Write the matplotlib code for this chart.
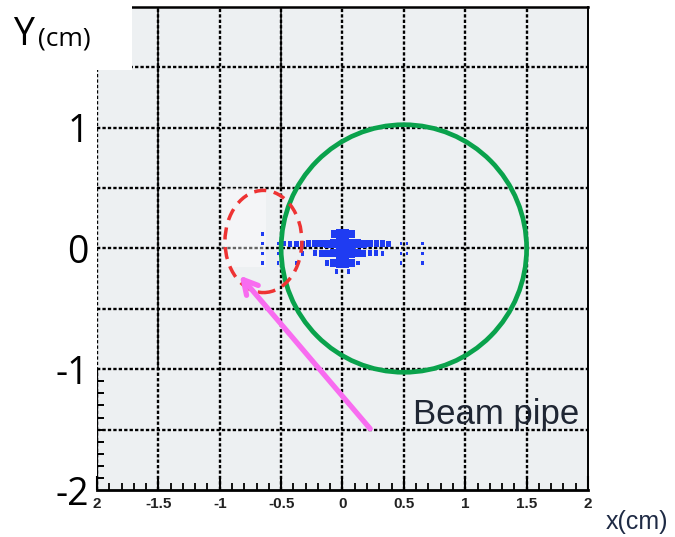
import matplotlib.pyplot as plt
import numpy as np
from matplotlib.patches import Ellipse, Rectangle
from matplotlib.ticker import FixedLocator

# hit boxes (cm) and relative box size
hit_x = [-0.65, -0.075, -0.025, 0.025, 0.075,
         -0.65, -0.525, -0.475, -0.425, -0.375, -0.325, -0.275, -0.225, -0.175, -0.125, -0.075, -0.025,
         0.025, 0.075, 0.125, 0.175, 0.225, 0.275, 0.325, 0.375, 0.475, 0.525, 0.65,
         -0.65, -0.525, -0.325, -0.225, -0.175, -0.125, -0.075, -0.025, 0.025, 0.075, 0.125, 0.175,
         0.225, 0.275, 0.325, 0.475, 0.525, 0.65,
         -0.65, -0.525, -0.375, -0.125, -0.075, -0.025, 0.025, 0.075, 0.125, 0.475, 0.65,
         -0.05, 0.05]
hit_y = [0.12] * 5 + [0.04] * 23 + [-0.04] * 18 + [-0.12] * 11 + [-0.19] * 2
hit_w = [0.35, 0.75, 1.0, 1.0, 0.85,
         0.35, 0.35, 0.45, 0.6, 0.6, 0.65, 0.7, 0.75, 0.75, 0.8, 0.9, 1.0,
         1.0, 1.0, 0.9, 0.8, 0.75, 0.7, 0.7, 0.6, 0.35, 0.35, 0.35,
         0.35, 0.35, 0.5, 0.6, 0.7, 0.75, 0.85, 1.0, 1.0, 1.0, 0.85, 0.7,
         0.65, 0.6, 0.5, 0.35, 0.35, 0.35,
         0.35, 0.35, 0.35, 0.6, 0.9, 1.0, 1.0, 0.85, 0.5, 0.35, 0.35,
         0.45, 0.45]

x_ticks = [-2, -1.5, -1, -0.5, 0, 0.5, 1, 1.5, 2]
x_labels = ['2', '-1.5', '-1', '-0.5', '0', '0.5', '1', '1.5', '2']
y_ticks = [-2, -1, 0, 1]
y_labels = ['-2', '-1', '0', '1']
grid_pos = [-1.5, -1, -0.5, 0, 0.5, 1, 1.5]

pipe_center = (0.5, 0.0)
pipe_radius = 1.0
old_center = (-0.644, 0.058)
old_size = (0.627, 0.846)

fig = plt.figure(figsize=(6.75, 5.37), dpi=100)
ax = fig.add_axes([0.1437, 0.0875, 0.7274, 0.8995])
ax.set_facecolor('#edf0f2')
ax.set_xlim(-2, 2)
ax.set_ylim(-2, 2)

dots = (0, (1.4, 0.9))
for g in grid_pos:
    ax.axvline(g, color='black', lw=1.7, ls=dots, zorder=1)
    ax.axhline(g, color='black', lw=1.7, ls=dots, zorder=1)
ax.axvline(-2, color='black', lw=1.7, ls=dots, zorder=1)
# solid pieces left over in the original picture
ax.axvline(-1.5, ymin=0.25, ymax=1, color='black', lw=1.1, zorder=1.2)
ax.axvline(-0.5, ymin=0.625, ymax=1, color='black', lw=1.1, zorder=1.2)
ax.axvline(-2, ymin=0, ymax=0.25, color='black', lw=1.6, zorder=1.2)

# faded patch round the old pipe position
ax.add_patch(Rectangle((-0.98, -0.15), 0.36, 0.65, facecolor='white', alpha=0.4, lw=0, zorder=1.5))

bw, bh = 0.058, 0.08
hx = np.array(hit_x)
hy = np.array(hit_y)
hw = np.array(hit_w)
ax.bar(hx, hw * bh, width=hw * bw, bottom=hy - hw * bh / 2, color='#1f3cf2', zorder=2)

ax.add_patch(Ellipse(pipe_center, 2 * pipe_radius, 2.05 * pipe_radius, fill=False,
                     edgecolor='#0aa24c', lw=3.4, zorder=3))
ax.add_patch(Ellipse(old_center, old_size[0], old_size[1], fill=False, edgecolor='#ee3333',
                     lw=2.5, ls=(0, (3.5, 2.2)), zorder=3))

ax.annotate('', xy=(-0.851, -0.207), xytext=(0.24, -1.51),
            arrowprops=dict(arrowstyle='->, head_length=1.0, head_width=0.55', color='#f86cf0', lw=3.8),
            zorder=4)

ax.text(0.574, -1.452, 'Beam pipe', fontsize=25, family=['Liberation Sans', 'DejaVu Sans'],
        color='#1f2633', ha='left', va='baseline', zorder=4)

ax.spines['left'].set_visible(False)
ax.spines['bottom'].set_linewidth(2.0)
ax.spines['top'].set_linewidth(1.8)
ax.spines['right'].set_linewidth(1.4)

ax.set_xticks(x_ticks, x_labels)
ax.xaxis.set_minor_locator(FixedLocator(np.arange(-2, 2.01, 0.1)))
ax.tick_params(axis='x', which='major', direction='in', length=10, width=1.5, pad=5,
               labelsize=11, top=False)
ax.tick_params(axis='x', which='minor', direction='in', length=5, width=1.3, top=False)
for lab in ax.get_xticklabels():
    lab.set_family(['Liberation Sans', 'DejaVu Sans'])
    lab.set_fontweight('bold')
    lab.set_color('#222222')

ax.set_yticks(y_ticks, y_labels)
ax.yaxis.set_minor_locator(FixedLocator(np.arange(-1.9, -0.95, 0.1)))
ax.tick_params(axis='y', which='major', direction='in', length=0, pad=6, labelsize=27, right=False)
ax.tick_params(axis='y', which='minor', direction='in', length=5, width=1.4, right=False)
for lab in ax.get_yticklabels():
    lab.set_family(['Open Sans', 'DejaVu Sans'])

# white label box over the top-left corner
fig.patches.append(Rectangle((0, 1 - 70 / 537), 132 / 675, 70 / 537, transform=fig.transFigure,
                             facecolor='white', edgecolor='none', zorder=5))
fig.text(13 / 675, 1 - 45 / 537, 'Y', fontsize=27, family=['Open Sans', 'DejaVu Sans'],
         va='baseline', ha='left', zorder=6)
fig.text(38 / 675, 1 - 45 / 537, '(cm)', fontsize=19, family=['Open Sans', 'DejaVu Sans'],
         va='baseline', ha='left', zorder=6)
fig.text(606 / 675, 1 - 529 / 537, 'x(cm)', fontsize=18, family=['Liberation Sans', 'DejaVu Sans'],
         color='#1e2a44', va='baseline', ha='left')

plt.savefig('out.png', dpi=100)
